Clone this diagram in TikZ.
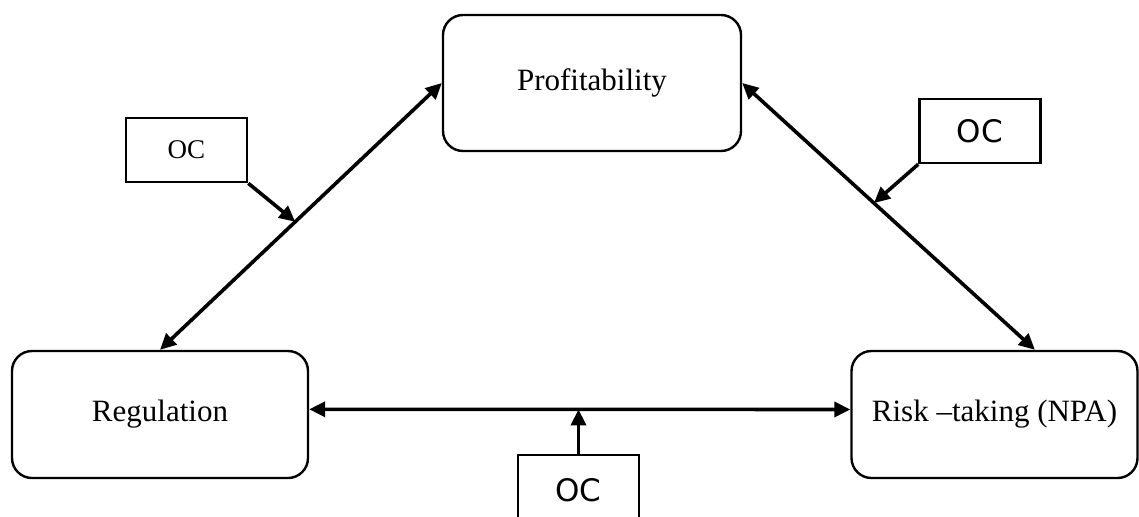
\documentclass[tikz,border=0pt]{standalone}
\usepackage{fontspec}
\setmainfont{Liberation Serif}
\newfontfamily\ocsans{DejaVu Sans}
\usetikzlibrary{arrows.meta}

\begin{document}
\begin{tikzpicture}[x=0.5pt, y=-0.5pt, >={Triangle[length=8pt, width=7.5pt]},
    varbox/.style={draw, line width=1.2pt, rounded corners=10pt, font=\fontsize{15.5}{18.5}\selectfont},
    ocbox/.style={draw, line width=1.3pt, minimum width=60.5pt, minimum height=32pt},
    link/.style={<->, line width=1.8pt},
    effect/.style={->, line width=1.8pt}]
    \clip (0, 0) rectangle (1139, 516);
    \node [varbox, minimum width=149pt, minimum height=68pt] (prof) at (592, 83) {Profitability};
    \node [varbox, minimum width=148pt, minimum height=63.5pt] (reg) at (160, 414.5) {Regulation};
    \node [varbox, minimum width=143pt, minimum height=63.5pt] (risk) at (994.5, 414.5) {Risk --taking (NPA)};
    \node [ocbox, font=\fontsize{13.5}{16}\selectfont] (ocl) at (186.5, 150) {OC};
    \node [ocbox, font=\ocsans\fontsize{15.5}{18}\selectfont] (ocr) at (980, 131) {OC};
    \node [ocbox, minimum height=35pt, font=\ocsans\fontsize{15.5}{18}\selectfont] (ocb) at (578.5, 490) {OC};
    \draw [link] (reg.north) -- coordinate [pos=0.48] (lm) (prof.west);
    \draw [link] (prof.east) -- coordinate [pos=0.45] (rm) (risk.58);
    \draw [link] (reg.2) -- coordinate (bm) (risk.178);
    \draw [effect] (ocl.south east) -- (lm);
    \draw [effect] (ocr.south west) -- (rm);
    \draw [effect] (ocb.north) -- (ocb.north |- bm);
\end{tikzpicture}
\end{document}
